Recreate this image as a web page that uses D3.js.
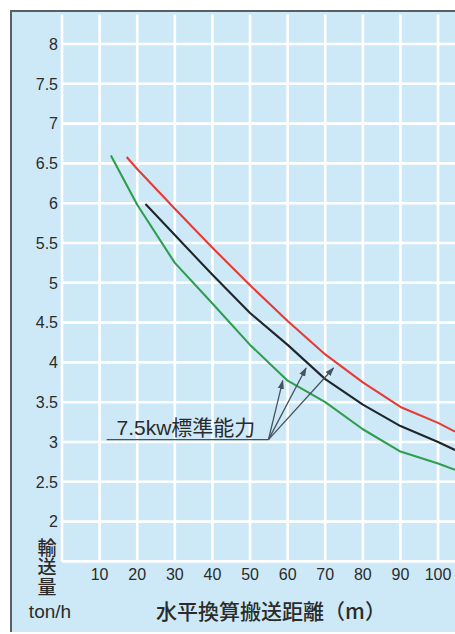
<!DOCTYPE html>
<html><head><meta charset="utf-8">
<script src="https://cdn.jsdelivr.net/npm/d3@7"></script>
<style>
html,body{margin:0;padding:0;background:#fff;}
svg{display:block;}
</style></head>
<body>
<svg id="chart" width="455" height="634"></svg>
<script>
// ---- data ----
const xTicks = [10, 20, 30, 40, 50, 60, 70, 80, 90, 100];
const yTicks = [2, 2.5, 3, 3.5, 4, 4.5, 5, 5.5, 6, 6.5, 7, 7.5, 8];
const yTickLabels = ["2", "2.5", "3", "3.5", "4", "4.5", "5", "5.5", "6", "6.5", "7", "7.5", "8"];

const redX   = [17.2, 20, 30, 40, 50, 60, 70, 80, 90, 100, 104.5];
const redY   = [6.58, 6.43, 5.93, 5.44, 4.97, 4.52, 4.10, 3.75, 3.44, 3.24, 3.13];
const blackX = [22.2, 30, 40, 50, 60, 70, 80, 90, 100, 104.5];
const blackY = [5.99, 5.60, 5.10, 4.62, 4.22, 3.79, 3.47, 3.20, 3.00, 2.90];
const greenX = [13, 20, 30, 40, 50, 60, 70, 80, 90, 100, 104.5];
const greenY = [6.60, 5.98, 5.25, 4.74, 4.22, 3.77, 3.50, 3.16, 2.88, 2.73, 2.65];

const annotationText = "7.5kw標準能力";
const annoLineX = [11.9, 54.9];
const annoLineY = [3.03, 3.03];
const arrowTipX = [58.7, 64.9, 72.2];
const arrowTipY = [3.77, 3.93, 3.93];
const annoTextPos = [14.5, 3.085];

const yTitle = "輸送量";
const yUnit = "ton/h";
const xTitle = "水平換算搬送距離（m）";

// ---- drawing ----
const svg = d3.select("#chart");
const x = d3.scaleLinear().domain([0, 104.5]).range([62, 455]);
const y = d3.scaleLinear().domain([1.5, 8]).range([561.4, 44]);

const fontLatin = "'Liberation Sans', Arial, 'Noto Sans CJK JP', sans-serif";
const fontCJK = "'Noto Sans CJK JP', 'Liberation Sans', sans-serif";

// panel background
svg.append("rect").attr("x", 11).attr("y", 11).attr("width", 444).attr("height", 621)
  .attr("fill", "#cde9f7");
// border left & top
svg.append("line").attr("x1", 11).attr("x2", 11).attr("y1", 11).attr("y2", 632)
  .attr("stroke", "#5a5f63").attr("stroke-width", 2);
svg.append("line").attr("x1", 10).attr("x2", 455).attr("y1", 11).attr("y2", 11)
  .attr("stroke", "#5a5f63").attr("stroke-width", 2);

// grid
const gridTop = y(8.37), gridBottom = y(1.5);
const g = svg.append("g");
g.selectAll("line.v").data([0].concat(xTicks)).join("line")
  .attr("x1", d => x(d)).attr("x2", d => x(d))
  .attr("y1", gridTop).attr("y2", gridBottom)
  .attr("stroke", "#ffffff").attr("stroke-width", 2.6);
g.selectAll("line.h").data([1.5].concat(yTicks)).join("line")
  .attr("x1", x(0)).attr("x2", 455)
  .attr("y1", d => y(d)).attr("y2", d => y(d))
  .attr("stroke", "#ffffff").attr("stroke-width", 2.6);

// y tick labels
svg.append("g").selectAll("text").data(yTicks).join("text")
  .attr("x", 58).attr("y", d => y(d)).attr("dy", "0.36em")
  .attr("text-anchor", "end")
  .attr("font-family", fontLatin).attr("font-size", 16)
  .attr("fill", "#2b2b2b")
  .text((d, i) => yTickLabels[i]);

// x tick labels
svg.append("g").selectAll("text").data(xTicks).join("text")
  .attr("x", d => x(d)).attr("y", 580)
  .attr("text-anchor", "middle")
  .attr("font-family", fontLatin).attr("font-size", 16)
  .attr("fill", "#2b2b2b")
  .text(d => d);

// y title (vertical, stacked)
svg.append("text").attr("x", 47).attr("y", 538)
  .attr("style", "writing-mode: vertical-rl; text-orientation: upright;")
  .attr("font-family", fontCJK).attr("font-size", 19).attr("font-weight", 500)
  .attr("letter-spacing", 0.5)
  .attr("fill", "#2b2b2b")
  .text(yTitle);
svg.append("text").attr("x", 50).attr("y", 618)
  .attr("text-anchor", "middle")
  .attr("font-family", fontLatin).attr("font-size", 19)
  .attr("fill", "#2b2b2b").text(yUnit);

// x title
svg.append("text").attr("x", 271).attr("y", 619)
  .attr("text-anchor", "middle")
  .attr("font-family", fontCJK).attr("font-size", 21).attr("font-weight", 500)
  .attr("fill", "#2b2b2b").text(xTitle);

// curves
const line = d3.line().x(d => x(d[0])).y(d => y(d[1]));
const series = [
  {xs: redX, ys: redY, color: "#e83a34"},
  {xs: blackX, ys: blackY, color: "#1f252b"},
  {xs: greenX, ys: greenY, color: "#2f9e4c"}
];
series.forEach(s => {
  svg.append("path")
    .datum(s.xs.map((v, i) => [v, s.ys[i]]))
    .attr("d", line)
    .attr("fill", "none").attr("stroke", s.color).attr("stroke-width", 2.1)
    .attr("stroke-linejoin", "round");
});

// annotation
const annoColor = "#45535e";
svg.append("defs").append("marker")
  .attr("id", "ah").attr("viewBox", "0 0 10 10").attr("refX", 9).attr("refY", 5)
  .attr("markerWidth", 7).attr("markerHeight", 7).attr("orient", "auto")
  .append("path").attr("d", "M0,1.5 L10,5 L0,8.5 Z").attr("fill", annoColor);

svg.append("line")
  .attr("x1", x(annoLineX[0])).attr("x2", x(annoLineX[1]))
  .attr("y1", y(annoLineY[0])).attr("y2", y(annoLineY[1]))
  .attr("stroke", annoColor).attr("stroke-width", 1.3);
svg.append("g").selectAll("line").data(arrowTipX).join("line")
  .attr("x1", x(annoLineX[1])).attr("y1", y(annoLineY[1]))
  .attr("x2", d => x(d)).attr("y2", (d, i) => y(arrowTipY[i]))
  .attr("stroke", annoColor).attr("stroke-width", 1.3)
  .attr("marker-end", "url(#ah)");
svg.append("text")
  .attr("x", x(annoTextPos[0])).attr("y", y(annoTextPos[1]))
  .attr("font-family", fontLatin).attr("font-size", 21)
  .attr("fill", "#2b2b2b").text(annotationText);
</script>
</body></html>
